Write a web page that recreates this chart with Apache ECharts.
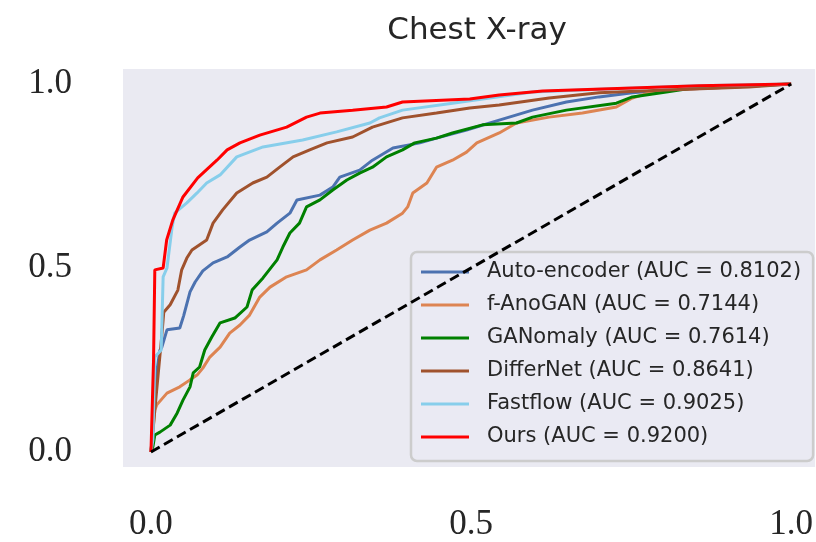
<!DOCTYPE html>
<html>
<head>
<meta charset="utf-8">
<title>Chest X-ray</title>
<script src="https://cdn.jsdelivr.net/npm/echarts@6/dist/echarts.min.js"></script>
<style>
  html, body { margin: 0; padding: 0; background: #fff; }
  #chart { width: 816px; height: 542px; }
</style>
</head>
<body>
<div id="chart"></div>
<script>
// tick labels on both axes
const tickValues = [0, 0.5, 1];

const methodNames = ['Auto-encoder', 'f-AnoGAN', 'GANomaly', 'DifferNet', 'Fastflow', 'Ours'];
const aucValues = ['0.8102', '0.7144', '0.7614', '0.8641', '0.9025', '0.9200'];

// ROC points [fpr, tpr]
const autoEncoder = [
  [0, 0], [0.002, 0.04], [0.003, 0.087], [0.006, 0.182], [0.009, 0.217], [0.014, 0.277],
  [0.017, 0.285], [0.025, 0.332], [0.045, 0.337], [0.051, 0.37], [0.061, 0.435],
  [0.069, 0.462], [0.081, 0.492], [0.097, 0.514], [0.119, 0.53], [0.139, 0.557],
  [0.154, 0.576], [0.181, 0.598], [0.197, 0.622], [0.217, 0.649], [0.228, 0.685],
  [0.264, 0.698], [0.284, 0.72], [0.295, 0.747], [0.326, 0.766], [0.346, 0.793],
  [0.378, 0.826], [0.42, 0.84], [0.446, 0.853], [0.493, 0.875], [0.544, 0.902],
  [0.596, 0.929], [0.649, 0.951], [0.70, 0.965], [0.752, 0.976], [0.805, 0.984],
  [0.908, 0.992], [1, 1]
];
const fAnoGAN = [
  [0, 0], [0.002, 0.033], [0.006, 0.114], [0.009, 0.128], [0.025, 0.16], [0.045, 0.177],
  [0.061, 0.196], [0.072, 0.209], [0.081, 0.228], [0.092, 0.258], [0.108, 0.285],
  [0.123, 0.323], [0.139, 0.345], [0.154, 0.372], [0.17, 0.421], [0.186, 0.448],
  [0.212, 0.476], [0.243, 0.495], [0.264, 0.522], [0.29, 0.549], [0.315, 0.576],
  [0.342, 0.603], [0.368, 0.622], [0.393, 0.649], [0.401, 0.666], [0.409, 0.704],
  [0.431, 0.731], [0.446, 0.774], [0.471, 0.793], [0.493, 0.815], [0.509, 0.84],
  [0.544, 0.867], [0.571, 0.894], [0.622, 0.91], [0.674, 0.921], [0.727, 0.9375],
  [0.752, 0.962], [0.778, 0.976], [0.805, 0.984], [0.908, 0.992], [1, 1]
];
const ganomaly = [
  [0, 0], [0.003, 0.014], [0.006, 0.046], [0.014, 0.054], [0.03, 0.073], [0.041, 0.106],
  [0.05, 0.141], [0.061, 0.177], [0.066, 0.215], [0.076, 0.231], [0.084, 0.277],
  [0.095, 0.3125], [0.108, 0.351], [0.131, 0.364], [0.15, 0.394], [0.158, 0.44],
  [0.175, 0.473], [0.197, 0.522], [0.206, 0.557], [0.217, 0.595], [0.232, 0.622],
  [0.243, 0.666], [0.264, 0.685], [0.284, 0.712], [0.306, 0.739], [0.326, 0.758],
  [0.346, 0.774], [0.368, 0.802], [0.393, 0.821], [0.412, 0.84], [0.446, 0.853],
  [0.471, 0.867], [0.518, 0.889], [0.571, 0.894], [0.596, 0.91], [0.649, 0.929],
  [0.727, 0.948], [0.752, 0.965], [0.805, 0.978], [0.856, 0.992], [1, 1]
];
const differNet = [
  [0, 0], [0.002, 0.04], [0.017, 0.318], [0.02, 0.38], [0.03, 0.40], [0.042, 0.44],
  [0.048, 0.495], [0.056, 0.527], [0.064, 0.549], [0.087, 0.576], [0.097, 0.622],
  [0.112, 0.658], [0.134, 0.704], [0.159, 0.731], [0.181, 0.747], [0.201, 0.774],
  [0.222, 0.802], [0.248, 0.821], [0.275, 0.84], [0.315, 0.856], [0.346, 0.883],
  [0.393, 0.908], [0.446, 0.921], [0.498, 0.935], [0.544, 0.943], [0.622, 0.962],
  [0.70, 0.976], [0.805, 0.984], [0.934, 0.992], [1, 1]
];
const fastflow = [
  [0, 0], [0.003, 0.033], [0.006, 0.258], [0.016, 0.277], [0.019, 0.476], [0.025, 0.5],
  [0.033, 0.611], [0.037, 0.649], [0.056, 0.677], [0.072, 0.704], [0.087, 0.731],
  [0.108, 0.753], [0.134, 0.802], [0.175, 0.829], [0.237, 0.848], [0.29, 0.87],
  [0.342, 0.894], [0.357, 0.908], [0.393, 0.929], [0.471, 0.948], [0.596, 0.978],
  [0.70, 0.986], [0.856, 0.995], [1, 1]
];
const ours = [
  [0, 0], [0.004, 0.25], [0.006, 0.495], [0.019, 0.50], [0.0245, 0.576], [0.034, 0.63],
  [0.05, 0.693], [0.073, 0.745], [0.103, 0.793], [0.119, 0.821], [0.139, 0.84],
  [0.17, 0.861], [0.212, 0.883], [0.243, 0.91], [0.264, 0.921], [0.315, 0.929],
  [0.368, 0.9375], [0.393, 0.951], [0.498, 0.959], [0.544, 0.970], [0.612, 0.981],
  [0.752, 0.989], [0.856, 0.995], [1, 1]
];
const chance = [[0, 0], [1, 1]];

const curves = [autoEncoder, fAnoGAN, ganomaly, differNet, fastflow, ours];
const colors = ['#4C72B0', '#DD8452', '#008000', '#A0522D', '#87CEEB', '#FF0000'];

const sansFont = 'DejaVu Sans';
const serifFont = 'Liberation Serif';

const legendNames = methodNames.map((m, i) => m + ' (AUC = ' + aucValues[i] + ')');

const series = curves.map((pts, i) => ({
  name: legendNames[i],
  type: 'line',
  data: pts,
  symbol: 'none',
  color: colors[i],
  lineStyle: { color: colors[i], width: 3 },
  z: 2 + i
}));
series.push({
  name: 'chance',
  type: 'line',
  data: chance,
  symbol: 'none',
  lineStyle: { color: '#000', width: 3, type: [10, 5] },
  z: 10
});

const myChart = echarts.init(document.getElementById('chart'));
const option = {
  animation: false,
  backgroundColor: '#ffffff',
  title: {
    text: 'Chest X-ray',
    left: 472,
    top: 10,
    textAlign: 'center',
    textStyle: { fontFamily: sansFont, fontSize: 31, fontWeight: 'normal', color: '#262626' }
  },
  grid: { left: 123, right: 0, top: 69, bottom: 75, backgroundColor: '#EAEAF2', show: true, borderWidth: 0 },
  legend: {
    data: legendNames,
    orient: 'vertical',
    left: 411,
    top: 252,
    icon: 'rect',
    itemWidth: 48,
    itemHeight: 3,
    itemGap: 11,
    padding: [9, 12, 13, 10],
    backgroundColor: 'rgba(234,234,242,0.8)',
    borderColor: '#cccccc',
    borderWidth: 2.5,
    borderRadius: 6,
    textStyle: { fontFamily: sansFont, fontSize: 21, color: '#262626', lineHeight: 22, padding: [0, 0, 0, 13] }
  },
  xAxis: {
    type: 'value',
    min: -0.0437,
    max: 1.0375,
    axisLine: { show: false },
    axisTick: { show: false },
    splitLine: { show: false },
    axisLabel: {
      customValues: tickValues,
      formatter: v => v.toFixed(1),
      margin: 40,
      fontFamily: serifFont,
      fontSize: 35,
      color: '#262626'
    }
  },
  yAxis: {
    type: 'value',
    min: -0.0408,
    max: 1.0408,
    axisLine: { show: false },
    axisTick: { show: false },
    splitLine: { show: false },
    axisLabel: {
      customValues: tickValues,
      formatter: v => v.toFixed(1),
      margin: 51,
      fontFamily: serifFont,
      fontSize: 35,
      color: '#262626'
    }
  },
  series: series
};
myChart.setOption(option);
</script>
</body>
</html>
